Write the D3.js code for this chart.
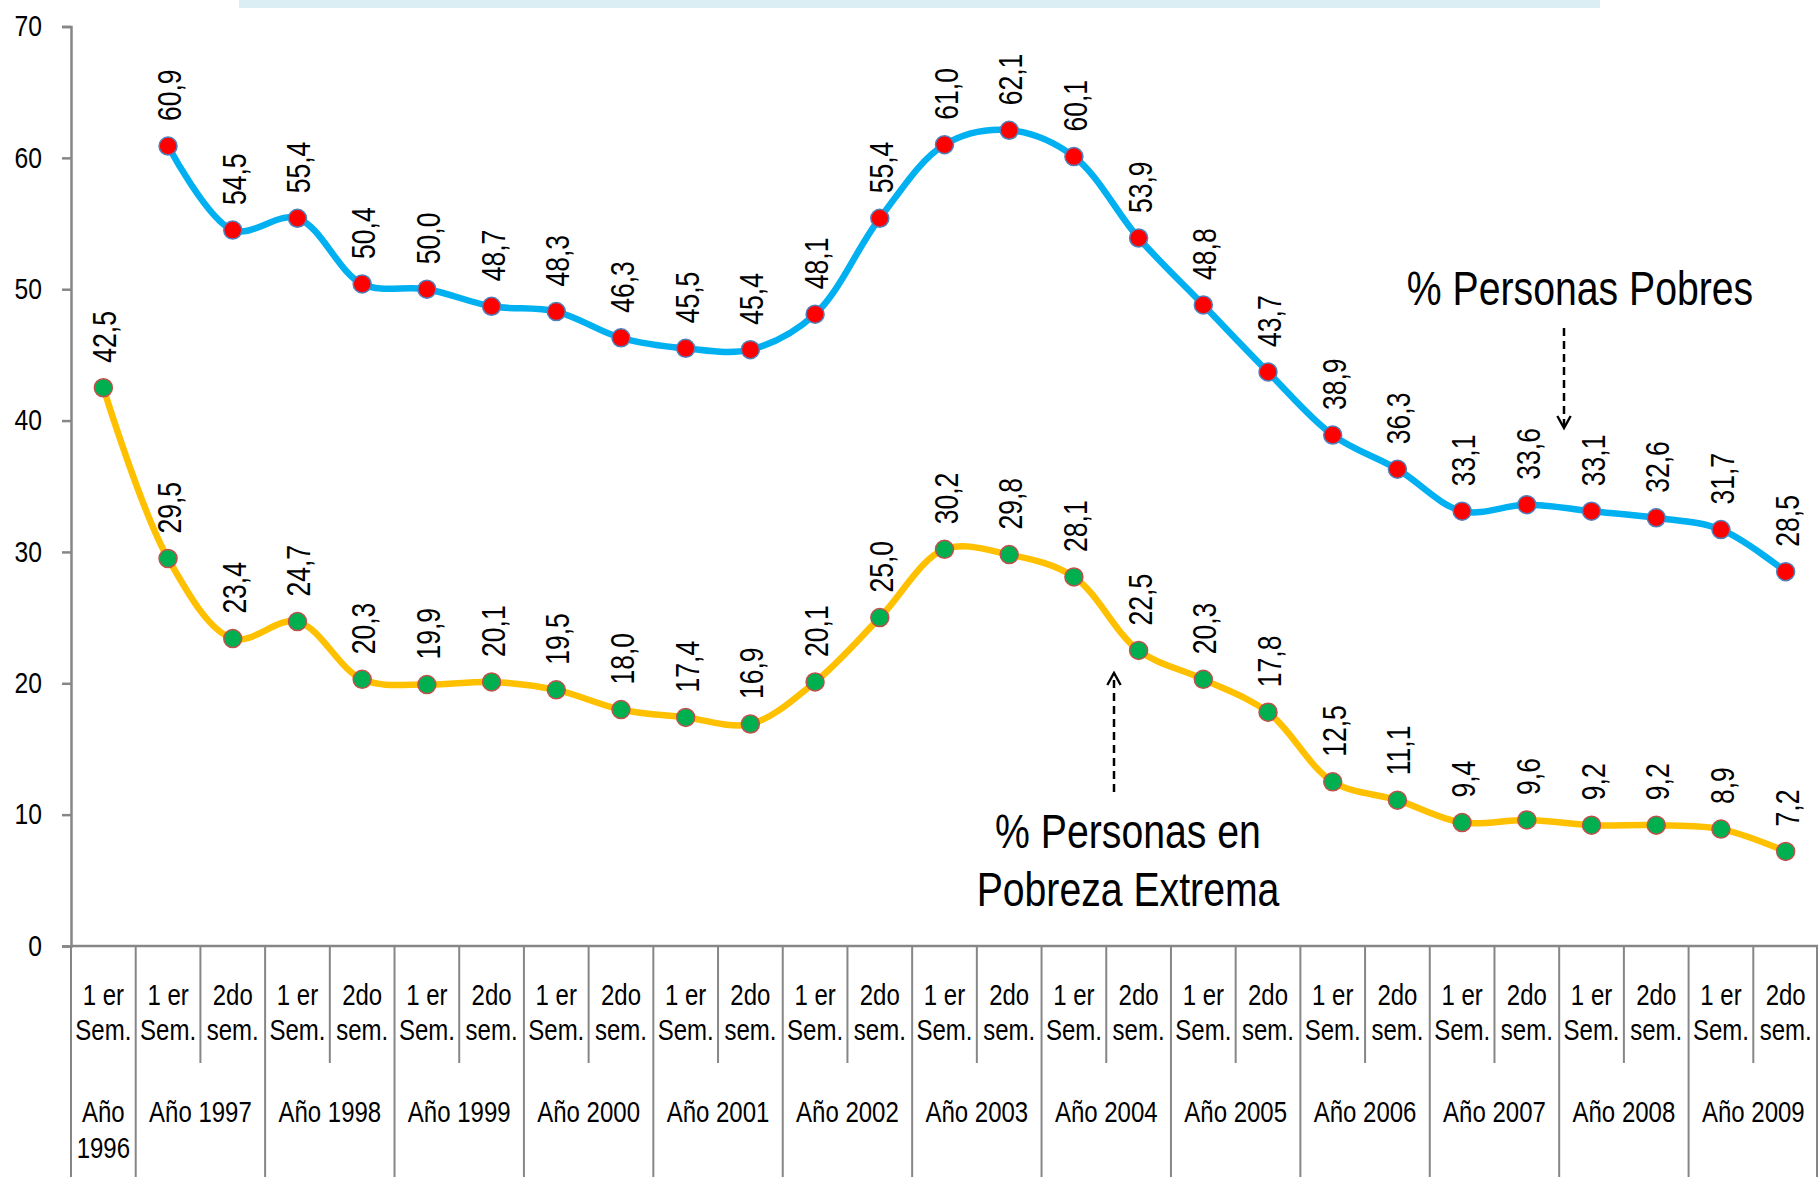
<!DOCTYPE html>
<html>
<head>
<meta charset="utf-8">
<script src="https://cdn.jsdelivr.net/npm/d3@7"></script>
<style>
  html, body { margin: 0; padding: 0; background: #fff; }
  svg { display: block; font-family: "Liberation Sans", Arial, sans-serif; }
</style>
</head>
<body>
<svg id="chart" width="1818" height="1177"></svg>
<script>
// semester labels (one per point) and the year groups under them
const semesters = ["1 er|Sem.",
  "1 er|Sem.", "2do|sem.", "1 er|Sem.", "2do|sem.", "1 er|Sem.", "2do|sem.",
  "1 er|Sem.", "2do|sem.", "1 er|Sem.", "2do|sem.", "1 er|Sem.", "2do|sem.",
  "1 er|Sem.", "2do|sem.", "1 er|Sem.", "2do|sem.", "1 er|Sem.", "2do|sem.",
  "1 er|Sem.", "2do|sem.", "1 er|Sem.", "2do|sem.", "1 er|Sem.", "2do|sem.",
  "1 er|Sem.", "2do|sem."];
const years = ["Año 1996", "Año 1997", "Año 1998", "Año 1999", "Año 2000", "Año 2001", "Año 2002",
  "Año 2003", "Año 2004", "Año 2005", "Año 2006", "Año 2007", "Año 2008", "Año 2009"];
const yearSpan = [1, 2, 2, 2, 2, 2, 2, 2, 2, 2, 2, 2, 2, 2];

// % Personas Pobres (no value for 1996)
const pobres = [null, 60.9, 54.5, 55.4, 50.4, 50.0, 48.7, 48.3, 46.3, 45.5, 45.4, 48.1, 55.4,
  61.0, 62.1, 60.1, 53.9, 48.8, 43.7, 38.9, 36.3, 33.1, 33.6, 33.1, 32.6, 31.7, 28.5];
// % Personas en Pobreza Extrema
const extrema = [42.5, 29.5, 23.4, 24.7, 20.3, 19.9, 20.1, 19.5, 18.0, 17.4, 16.9, 20.1, 25.0,
  30.2, 29.8, 28.1, 22.5, 20.3, 17.8, 12.5, 11.1, 9.4, 9.6, 9.2, 9.2, 8.9, 7.2];
const yTicks = [0, 10, 20, 30, 40, 50, 60, 70];

const svg = d3.select("#chart");
const plotLeft = 71, plotRight = 1818, plotTop = 26.5, plotBottom = 946;
const axisColor = "#868686";
// Arial squeezed sideways to get the narrow look of the original
const narrow = k => `scale(${k},1)`;
const fmt = v => d3.format(".1f")(v).replace(".", ",");

const x = d3.scaleBand()
  .domain(d3.range(semesters.length))
  .range([plotLeft, plotRight]);

const y = d3.scaleLinear()
  .domain([0, 70])
  .range([plotBottom, plotTop]);

// title box peeking in at the top
svg.append("rect")
  .attr("x", 239).attr("y", 0)
  .attr("width", 1361).attr("height", 8)
  .attr("fill", "#daeef3");

// y axis
const yAxis = svg.append("g")
  .attr("transform", `translate(${plotLeft},0)`)
  .call(d3.axisLeft(y).tickValues(yTicks).tickSize(9).tickPadding(20));
yAxis.select(".domain").attr("stroke", axisColor).attr("stroke-width", 2.5);
yAxis.selectAll(".tick line").attr("stroke", axisColor).attr("stroke-width", 2.5);
yAxis.selectAll(".tick text")
  .attr("x", 0)
  .attr("transform", `translate(-29,0) ${narrow(0.85)}`)
  .attr("font-size", 29).attr("fill", "#000")
  .style("font-family", "inherit");

// x axis line
svg.append("line")
  .attr("x1", plotLeft).attr("x2", plotRight)
  .attr("y1", plotBottom).attr("y2", plotBottom)
  .attr("stroke", axisColor).attr("stroke-width", 2.5);

// separators between semesters (short) and years (full height)
const yearStarts = [0];
yearSpan.forEach((s, i) => yearStarts.push(yearStarts[i] + s));
svg.selectAll(".sep")
  .data(d3.range(semesters.length + 1))
  .enter().append("line")
    .attr("class", "sep")
    .attr("x1", i => i < semesters.length ? x(i) : plotRight - 1)
    .attr("x2", i => i < semesters.length ? x(i) : plotRight - 1)
    .attr("y1", plotBottom)
    .attr("y2", i => yearStarts.includes(i) ? 1177 : 1063)
    .attr("stroke", axisColor)
    .attr("stroke-width", 2);

const cx = i => x(i) + x.bandwidth() / 2;

// semester labels
const semLab = svg.selectAll(".sem")
  .data(semesters)
  .enter().append("text")
    .attr("class", "sem")
    .attr("text-anchor", "middle")
    .attr("font-size", 30)
    .attr("transform", (d, i) => `translate(${cx(i)},0) ${narrow(0.8)}`);
semLab.append("tspan")
  .attr("x", 0).attr("y", 1005)
  .text(d => d.split("|")[0]);
semLab.append("tspan")
  .attr("x", 0).attr("y", 1040)
  .text(d => d.split("|")[1]);

// year labels
svg.selectAll(".year")
  .data(years)
  .enter().append("text")
    .attr("class", "year")
    .attr("text-anchor", "middle")
    .attr("font-size", 30)
    .attr("transform", (d, i) => {
      const mid = x(yearStarts[i]) + yearSpan[i] * x.bandwidth() / 2;
      return `translate(${mid},1122) ${narrow(0.8)}`;
    })
    .each(function(d, i) {
      const t = d3.select(this);
      if (yearSpan[i] === 1) {
        t.append("tspan").attr("x", 0).attr("y", 0).text(d.split(" ")[0]);
        t.append("tspan").attr("x", 0).attr("y", 36).text(d.split(" ")[1]);
      } else {
        t.text(d);
      }
    });

// lines
const line = d3.line()
  .defined(d => d != null)
  .x((d, i) => cx(i))
  .y(d => y(d))
  .curve(d3.curveCatmullRom.alpha(0.5));

svg.append("path")
  .datum(pobres)
  .attr("fill", "none")
  .attr("stroke", "#00b0f0")
  .attr("stroke-width", 6.5)
  .attr("d", line);

svg.append("path")
  .datum(extrema)
  .attr("fill", "none")
  .attr("stroke", "#ffc000")
  .attr("stroke-width", 6.5)
  .attr("d", line);

// markers + rotated value labels
function drawPoints(values, fill, stroke, cls) {
  const pts = values.map((v, i) => ({ v, i })).filter(d => d.v != null);
  svg.selectAll("." + cls)
    .data(pts)
    .enter().append("circle")
      .attr("class", cls)
      .attr("cx", d => cx(d.i))
      .attr("cy", d => y(d.v))
      .attr("r", 9)
      .attr("fill", fill)
      .attr("stroke", stroke)
      .attr("stroke-width", 1.5);
  svg.selectAll("." + cls + "-lab")
    .data(pts)
    .enter().append("text")
      .attr("class", cls + "-lab")
      .attr("font-size", 34)
      .attr("transform", d => `translate(${cx(d.i) + 13},${y(d.v) - 25}) rotate(-90) ${narrow(0.78)}`)
      .text(d => fmt(d.v));
}
drawPoints(pobres, "#ff0000", "#4f81bd", "p");
drawPoints(extrema, "#00b050", "#c0504d", "e");

// annotations
svg.append("defs").append("marker")
  .attr("id", "arrow")
  .attr("viewBox", "0 0 12 12")
  .attr("refX", 10).attr("refY", 6)
  .attr("markerWidth", 16).attr("markerHeight", 16)
  .attr("markerUnits", "userSpaceOnUse")
  .attr("orient", "auto")
  .append("path")
    .attr("d", "M1,1 L10,6 L1,11")
    .attr("fill", "none")
    .attr("stroke", "#000")
    .attr("stroke-width", 1.8);

svg.append("text")
  .attr("transform", `translate(1580,305) ${narrow(0.8)}`)
  .attr("text-anchor", "middle")
  .attr("font-size", 49)
  .text("% Personas Pobres");

svg.append("line")
  .attr("x1", 1564).attr("y1", 328)
  .attr("x2", 1564).attr("y2", 428)
  .attr("stroke", "#000").attr("stroke-width", 2.5)
  .attr("stroke-dasharray", "8,5")
  .attr("marker-end", "url(#arrow)");

const ext = svg.append("text")
  .attr("transform", `translate(1128,0) ${narrow(0.8)}`)
  .attr("text-anchor", "middle")
  .attr("font-size", 49);
ext.append("tspan").attr("x", 0).attr("y", 848).text("% Personas en");
ext.append("tspan").attr("x", 0).attr("y", 906).text("Pobreza Extrema");

svg.append("line")
  .attr("x1", 1114).attr("y1", 792)
  .attr("x2", 1114).attr("y2", 673)
  .attr("stroke", "#000").attr("stroke-width", 2.5)
  .attr("stroke-dasharray", "8,5")
  .attr("marker-end", "url(#arrow)");
</script>
</body>
</html>
